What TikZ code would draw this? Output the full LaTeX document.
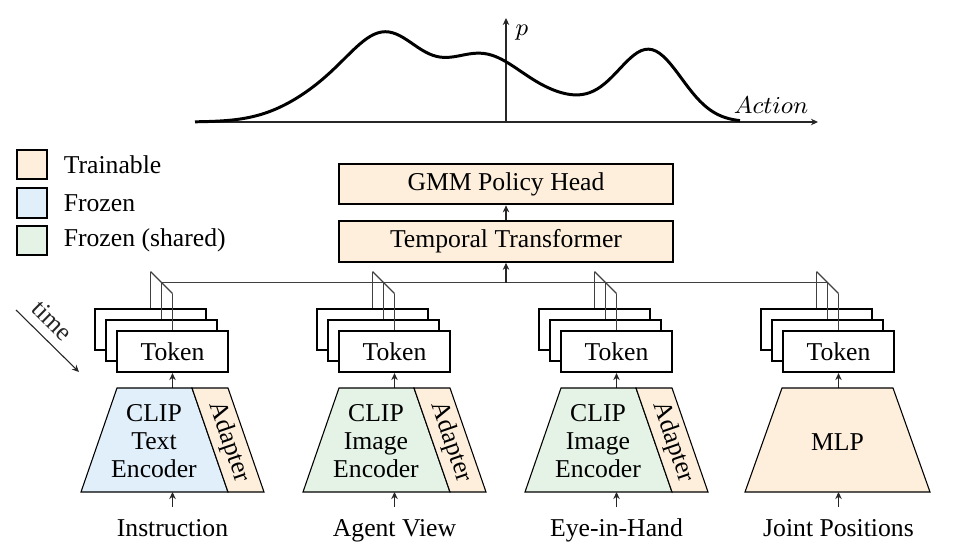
\documentclass[tikz,border=0pt]{standalone}
\usepackage{fontspec}
\setmainfont{Liberation Serif}
\usepackage{tikz}
\usetikzlibrary{
    arrows.meta,
    positioning,
    calc
}
\definecolor{trainable}{RGB}{253,239,220}
\definecolor{frozen}{RGB}{225,239,251}
\definecolor{shared}{RGB}{228,243,229}
\tikzset{
    box/.style={draw, thick, fill=white, minimum width=1.443cm, minimum height=0.533cm, inner sep=0pt},
    headbox/.style={draw, thick, fill=trainable, minimum width=4.342cm, minimum height=0.527cm, inner sep=0pt},
    legendbox/.style={draw, thick, minimum width=0.39cm, minimum height=0.38cm, inner sep=0pt},
    wire/.style={black!75},       % token wiring
    flow/.style={-{Stealth[length=2.6pt,width=2.4pt]}, black!85},
    enc/.style={draw, thin},
    inlabel/.style={anchor=north, text height=1.6ex, text depth=.25ex},
}

\begin{document}
\begin{tikzpicture}[x=0.013cm, y=-0.013cm, font=\fontsize{9.5}{10.4}\selectfont,
    declare function={
        gs(\x,\m,\s) = exp(-min(0.5*((\x-\m)/\s)^2,15));
        gmm(\x) = 35*gs(\x,340,45) + 66*gs(\x,390,35) + 62*gs(\x,480,40)
                + 20*gs(\x,560,45) + 70*gs(\x,650,32);
    }]
    \useasboundingbox (0,0) rectangle (957,556);

    % action density
    \coordinate (xstart) at (195,122);
    \coordinate (xend) at (818,122);
    \coordinate (orig) at (506,122);
    \coordinate (yend) at (506,18);
    \draw[flow] (xstart) -- (xend);
    \draw[flow] (orig) -- (yend);
    \node (plabel) at (522,33) {$p$};
    \node (actlabel) at (771,105) {$Action$};
    \draw[line width=1.1pt, line join=round] plot[domain=195:740, samples=150] (\x, {122-gmm(\x)});

    % legend
    \node[legendbox, fill=trainable] (lgtrain) at (32,164.5) {};
    \node[legendbox, fill=frozen] (lgfrozen) at (32,203) {};
    \node[legendbox, fill=shared] (lgshared) at (32,240.5) {};
    \node[right=0.08cm of lgtrain] (lgtraintxt) {Trainable};
    \node[right=0.08cm of lgfrozen] (lgfrozentxt) {Frozen};
    \node[right=0.08cm of lgshared] (lgsharedtxt) {Frozen (shared)};

    % head
    \node[headbox] (head) at (506,184) {GMM Policy Head};
    \node[headbox] (tt) at (506,241.5) {Temporal Transformer};
    \draw[flow] (tt) -- (head);

    % token stacks
    \foreach \k in {0,...,3}{
        \pgfmathsetmacro\cx{172.5+222*\k}
        \foreach \j in {0,1,2}{
            \node[box] (tok\k\j) at (\cx-22+11*\j, 329.5+11*\j) {\ifnum\j=2 Token\fi};
            \coordinate (top\k\j) at (\cx-22+11*\j, 271.5+11*\j);
            \draw[wire] (tok\k\j) -- (top\k\j);
        }
        \draw[wire] (top\k0) -- (top\k2);
        \coordinate (et\k) at (\cx,388);
        \coordinate (eb\k) at (\cx,492);
        \draw[flow] (et\k) -- (tok\k2);
    }
    \draw[wire] (top01) -- (top31);
    \coordinate (bus) at (506,282.5);
    \draw[flow] (bus) -- (tt);

    % encoders
    \foreach \k/\fillc/\name in {0/frozen/{CLIP\\Text\\Encoder},1/shared/{CLIP\\Image\\Encoder},2/shared/{CLIP\\Image\\Encoder}}{
        \pgfmathsetmacro\cx{172.5+222*\k}
        \filldraw[enc, fill=\fillc] (\cx-55.5,388) -- (\cx+19.5,388) -- (\cx+55.5,492) -- (\cx-91.5,492) -- cycle;
        \filldraw[enc, fill=trainable] (\cx+19.5,388) -- (\cx+55.5,388) -- (\cx+91.5,492) -- (\cx+55.5,492) -- cycle;
        \node[align=center] (enc\k) at (\cx-18.5,441) {\name};
        \node[rotate=-71] (adapt\k) at (\cx+56.5,442) {Adapter};
    }
    \filldraw[enc, fill=trainable] (782,388) -- (893,388) -- (930,492) -- (745,492) -- cycle;
    \node (enc3) at (837.5,442) {MLP};

    % inputs
    \foreach \k/\txt in {0/Instruction,1/Agent View,2/Eye-in-Hand,3/Joint Positions}{
        \node[inlabel] (in\k) at (172.5+222*\k,507) {\txt};
        \draw[flow] (in\k) -- (eb\k);
    }

    % time direction
    \coordinate (tstart) at (16,310);
    \coordinate (tend) at (79,372);
    \draw[flow] (tstart) -- (tend) node[pos=0.38, sloped, above] (timelabel) {time};
\end{tikzpicture}
\end{document}
